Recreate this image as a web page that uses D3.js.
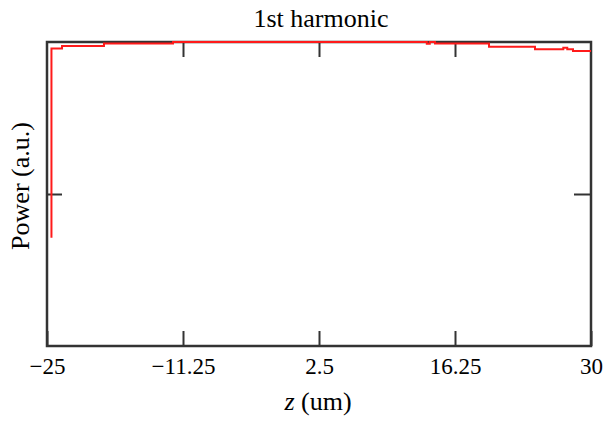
<!DOCTYPE html>
<html>
<head>
<meta charset="utf-8">
<script src="https://cdn.jsdelivr.net/npm/d3@7"></script>
<style>
  body { margin: 0; background: #fff; }
  svg { display: block; }
  text { font-family: "Liberation Serif", "Times New Roman", serif; fill: #000; }
</style>
</head>
<body>
<div id="chart"></div>
<script>
// series (z in um, power normalised)
const zValues = [-24.65, -24.55, -23.48, -19.24, -12.26, 13.4, 13.7, 14.23, 19.69, 24.34, 27.2, 27.6, 28.18, 30];
const powerValues = [0.359, 0.979, 0.987, 0.995, 1.0, 0.994, 1.0, 0.995, 0.984, 0.976, 0.981, 0.976, 0.970, 0.970];

const xTicks = [-25, -11.25, 2.5, 16.25, 30];
const xTickLabels = ["\u221225", "\u221211.25", "2.5", "16.25", "30"];
const yTicks = [0.5];

const titleText = "1st harmonic";
const yLabelText = "Power (a.u.)";

const width = 613, height = 425;
const margin = { top: 42, right: 22, bottom: 79, left: 47 };
const innerW = width - margin.left - margin.right;
const innerH = height - margin.top - margin.bottom;

const svg = d3.select("#chart").append("svg")
  .attr("width", width).attr("height", height);

const x = d3.scaleLinear().domain([-25, 30]).range([0, innerW]);
const y = d3.scaleLinear().domain([0, 1]).range([innerH, 0]);

const frame = svg.append("g")
  .attr("transform", "translate(" + margin.left + "," + margin.top + ")");

const axisColor = "#333";

// ticks point inward on all four sides
const xAxis = d3.axisBottom(x).tickValues(xTicks)
  .tickSize(-15).tickPadding(12)
  .tickFormat((d, i) => xTickLabels[i]);
const xAxisTop = d3.axisTop(x).tickValues(xTicks.slice(1, -1)).tickSize(-15).tickFormat("");
const yAxis = d3.axisLeft(y).tickValues(yTicks).tickSize(-15).tickFormat("");
const yAxisRight = d3.axisRight(y).tickValues(yTicks).tickSize(-17).tickFormat("");

function styleAxis(g) {
  g.select(".domain").remove();
  g.selectAll(".tick line").attr("stroke", axisColor).attr("stroke-width", 2);
}

frame.append("g").attr("transform", "translate(0," + innerH + ")")
  .call(xAxis).call(styleAxis)
  .selectAll("text")
    .attr("font-size", 23)
    .attr("font-family", "Liberation Serif")
    .attr("fill", "#000");
frame.append("g").call(xAxisTop).call(styleAxis);
frame.append("g").call(yAxis).call(styleAxis);
frame.append("g").attr("transform", "translate(" + innerW + ",0)")
  .call(yAxisRight).call(styleAxis);

// box
frame.append("rect")
  .attr("x", 0).attr("y", 0)
  .attr("width", innerW).attr("height", innerH)
  .attr("fill", "none").attr("stroke", axisColor).attr("stroke-width", 2.5);

// the trace
const data = zValues.map((z, i) => ({ z: z, p: powerValues[i] }));
const line = d3.line()
  .x(d => x(d.z))
  .y(d => y(d.p))
  .curve(d3.curveStepAfter);

frame.append("path")
  .datum(data)
  .attr("fill", "none")
  .attr("stroke", "#ff1a1a")
  .attr("stroke-width", 2)
  .attr("d", line);

// labels
svg.append("text")
  .attr("x", 321).attr("y", 27)
  .attr("text-anchor", "middle")
  .attr("font-size", 26)
  .text(titleText);

svg.append("text")
  .attr("transform", "translate(29,186) rotate(-90)")
  .attr("text-anchor", "middle")
  .attr("font-size", 26)
  .text(yLabelText);

const xl = svg.append("text")
  .attr("x", 318).attr("y", 410)
  .attr("text-anchor", "middle")
  .attr("font-size", 26);
xl.append("tspan").attr("font-style", "italic").text("z");
xl.append("tspan").text(" (um)");
</script>
</body>
</html>
